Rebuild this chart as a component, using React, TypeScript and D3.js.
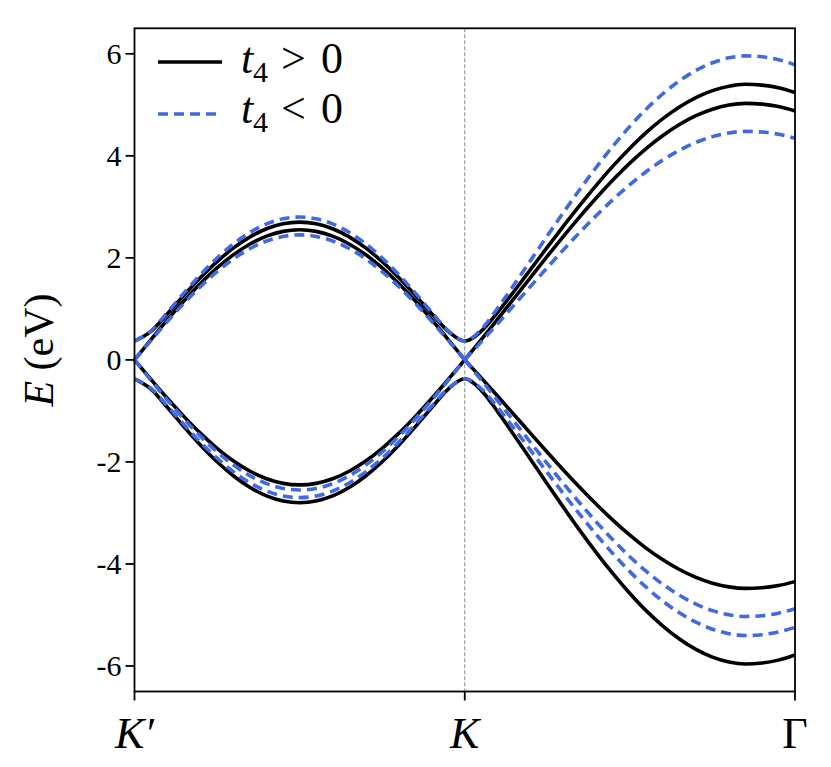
import React from "react";
import * as d3 from "d3";

// path coordinate: 0 = K', 1 = K, 2 = Γ
const kPath = [
  0, 0.05, 0.1, 0.15, 0.2, 0.25, 0.3, 0.35, 0.4, 0.45, 0.5, 0.55, 0.6, 0.65, 0.7, 0.75, 0.8, 0.85, 0.9, 0.95, 1.0,
  1.05, 1.1, 1.15, 1.2, 1.25, 1.3, 1.35, 1.4, 1.45, 1.5, 1.55, 1.6, 1.65, 1.7, 1.75, 1.8, 1.85, 1.9, 1.95, 2.0,
];

// t4 > 0 bands (eV)
const posBand1 = [
  0.370, 0.559, 0.906, 1.269, 1.615, 1.927, 2.195, 2.412, 2.571, 2.668, 2.700, 2.668, 2.571, 2.412, 2.195, 1.927, 1.615, 1.269, 0.906, 0.559, 0.370,
  0.563, 0.936, 1.351, 1.779, 2.209, 2.633, 3.044, 3.437, 3.808, 4.150, 4.460, 4.729, 4.958, 5.142, 5.279, 5.366, 5.402, 5.386, 5.333, 5.241,
];
const posBand2 = [
  0, 0.399, 0.788, 1.158, 1.499, 1.803, 2.063, 2.272, 2.425, 2.519, 2.550, 2.519, 2.425, 2.272, 2.063, 1.803, 1.499, 1.158, 0.788, 0.399, 0,
  0.396, 0.802, 1.212, 1.624, 2.032, 2.433, 2.819, 3.189, 3.537, 3.858, 4.147, 4.399, 4.614, 4.787, 4.914, 4.995, 5.029, 5.014, 4.965, 4.879,
];
const posBand3 = [
  0, -0.383, -0.757, -1.112, -1.440, -1.732, -1.982, -2.183, -2.330, -2.420, -2.450, -2.420, -2.330, -2.183, -1.982, -1.732, -1.440, -1.112, -0.757, -0.383, 0,
  -0.353, -0.714, -1.080, -1.446, -1.810, -2.167, -2.511, -2.840, -3.150, -3.436, -3.694, -3.918, -4.109, -4.263, -4.377, -4.449, -4.479, -4.466, -4.422, -4.346,
];
const posBand4 = [
  -0.370, -0.571, -0.934, -1.313, -1.673, -1.997, -2.276, -2.501, -2.666, -2.766, -2.800, -2.766, -2.666, -2.501, -2.276, -1.997, -1.673, -1.313, -0.934, -0.571, -0.370,
  -0.597, -1.018, -1.481, -1.956, -2.432, -2.901, -3.356, -3.791, -4.200, -4.578, -4.920, -5.217, -5.470, -5.674, -5.825, -5.921, -5.960, -5.943, -5.885, -5.784,
];

// t4 < 0 bands (eV)
const negBand1 = [
  0.370, 0.571, 0.934, 1.313, 1.673, 1.997, 2.276, 2.501, 2.666, 2.766, 2.800, 2.766, 2.666, 2.501, 2.276, 1.997, 1.673, 1.313, 0.934, 0.571, 0.370,
  0.597, 1.018, 1.481, 1.956, 2.432, 2.901, 3.356, 3.791, 4.200, 4.578, 4.920, 5.217, 5.470, 5.674, 5.825, 5.921, 5.960, 5.943, 5.885, 5.784,
];
const negBand2 = [
  0, 0.383, 0.757, 1.112, 1.440, 1.732, 1.982, 2.183, 2.330, 2.420, 2.450, 2.420, 2.330, 2.183, 1.982, 1.732, 1.440, 1.112, 0.757, 0.383, 0,
  0.353, 0.714, 1.080, 1.446, 1.810, 2.167, 2.511, 2.840, 3.150, 3.436, 3.694, 3.918, 4.109, 4.263, 4.377, 4.449, 4.479, 4.466, 4.422, 4.346,
];
const negBand3 = [
  0, -0.399, -0.788, -1.158, -1.499, -1.803, -2.063, -2.272, -2.425, -2.519, -2.550, -2.519, -2.425, -2.272, -2.063, -1.803, -1.499, -1.158, -0.788, -0.399, 0,
  -0.396, -0.802, -1.212, -1.624, -2.032, -2.433, -2.819, -3.189, -3.537, -3.858, -4.147, -4.399, -4.614, -4.787, -4.914, -4.995, -5.029, -5.014, -4.965, -4.879,
];
const negBand4 = [
  -0.370, -0.559, -0.906, -1.269, -1.615, -1.927, -2.195, -2.412, -2.571, -2.668, -2.700, -2.668, -2.571, -2.412, -2.195, -1.927, -1.615, -1.269, -0.906, -0.559, -0.370,
  -0.563, -0.936, -1.351, -1.779, -2.209, -2.633, -3.044, -3.437, -3.808, -4.150, -4.460, -4.729, -4.958, -5.142, -5.279, -5.366, -5.402, -5.386, -5.333, -5.241,
];

const yTicks = [-6, -4, -2, 0, 2, 4, 6];
const yTickLabels = ["-6", "-4", "-2", "0", "2", "4", "6"];
const xTicks = [0, 1, 2];
const xTickLabels = ["K′", "K", "Γ"];
const xTickItalic = [true, true, false];

const W = 831;
const H = 767;
const L = 134.5;
const R = 795;
const T = 28.3;
const B = 691.5;
const BLUE = "#4169e1";
const SERIF = '"Liberation Serif", Tinos, "Times New Roman", Times, "Nimbus Roman", serif';
const txt = { fontFamily: SERIF };

export default function App() {
  const x = d3.scaleLinear().domain([0, 2]).range([L, R]);
  const y = d3.scaleLinear().domain([-6.5, 6.5]).range([B, T]);
  const line = d3
    .line<[number, number]>()
    .x((d) => x(d[0]))
    .y((d) => y(d[1]))
    .curve(d3.curveMonotoneX);

  const KI = kPath.indexOf(1.0);
  const bandPaths = (vals: number[]) => {
    const pts: [number, number][] = kPath.map((k, i) => [k, vals[i]]);
    if (vals[KI] === 0) {
      return [line(pts.slice(0, KI + 1)) || "", line(pts.slice(KI)) || ""];
    }
    return [line(pts) || ""];
  };

  const pos = [posBand1, posBand2, posBand3, posBand4];
  const neg = [negBand1, negBand2, negBand3, negBand4];

  return (
    <svg
      width={W}
      height={H}
      style={{ position: "absolute", left: 0, top: 0, background: "#fff" }}
    >
      <rect x={0} y={0} width={W} height={H} fill="#fff" />
      <line
        x1={x(1)}
        x2={x(1)}
        y1={T}
        y2={B}
        stroke="#888"
        strokeWidth={1}
        strokeDasharray="4,2"
      />
      {pos.map((b, i) =>
        bandPaths(b).map((d, j) => (
          <path key={`p${i}-${j}`} d={d} fill="none" stroke="#000" strokeWidth={3.6} />
        ))
      )}
      {neg.map((b, i) =>
        bandPaths(b).map((d, j) => (
          <path
            key={`n${i}-${j}`}
            d={d}
            fill="none"
            stroke={BLUE}
            strokeWidth={3.6}
            strokeDasharray="10,6"
          />
        ))
      )}
      <rect x={L} y={T} width={R - L} height={B - T} fill="none" stroke="#000" strokeWidth={1.8} />
      {yTicks.map((v, i) => (
        <g key={`yt${i}`}>
          <line x1={L - 9} x2={L} y1={y(v)} y2={y(v)} stroke="#000" strokeWidth={1.8} />
          <text x={L - 13} y={y(v) + 10.5} textAnchor="end" fontSize={30} style={txt}>
            {yTickLabels[i]}
          </text>
        </g>
      ))}
      {xTicks.map((v, i) => (
        <g key={`xt${i}`}>
          <line x1={x(v)} x2={x(v)} y1={B} y2={B + 9} stroke="#000" strokeWidth={1.8} />
          <text
            x={x(v)}
            y={748}
            textAnchor="middle"
            fontSize={44}
            fontStyle={xTickItalic[i] ? "italic" : "normal"}
            style={txt}
          >
            {xTickLabels[i]}
          </text>
        </g>
      ))}
      <text transform="translate(53,350) rotate(-90)" textAnchor="middle" fontSize={42} style={txt}>
        <tspan fontStyle="italic">E</tspan>
        <tspan> (eV)</tspan>
      </text>
      <line x1={158} x2={222} y1={62} y2={62} stroke="#000" strokeWidth={3.6} />
      <text x={241} y={73} fontSize={44} fontStyle="italic" style={txt}>t</text>
      <text x={253} y={82} fontSize={30} style={txt}>4</text>
      <text x={281} y={73} fontSize={44} style={txt}>&gt;</text>
      <text x={321} y={73} fontSize={44} style={txt}>0</text>
      <line
        x1={158}
        x2={222}
        y1={114}
        y2={114}
        stroke={BLUE}
        strokeWidth={3.6}
        strokeDasharray="10,6"
      />
      <text x={241} y={123} fontSize={44} fontStyle="italic" style={txt}>t</text>
      <text x={253} y={132} fontSize={30} style={txt}>4</text>
      <text x={281} y={123} fontSize={44} style={txt}>&lt;</text>
      <text x={321} y={123} fontSize={44} style={txt}>0</text>
    </svg>
  );
}
